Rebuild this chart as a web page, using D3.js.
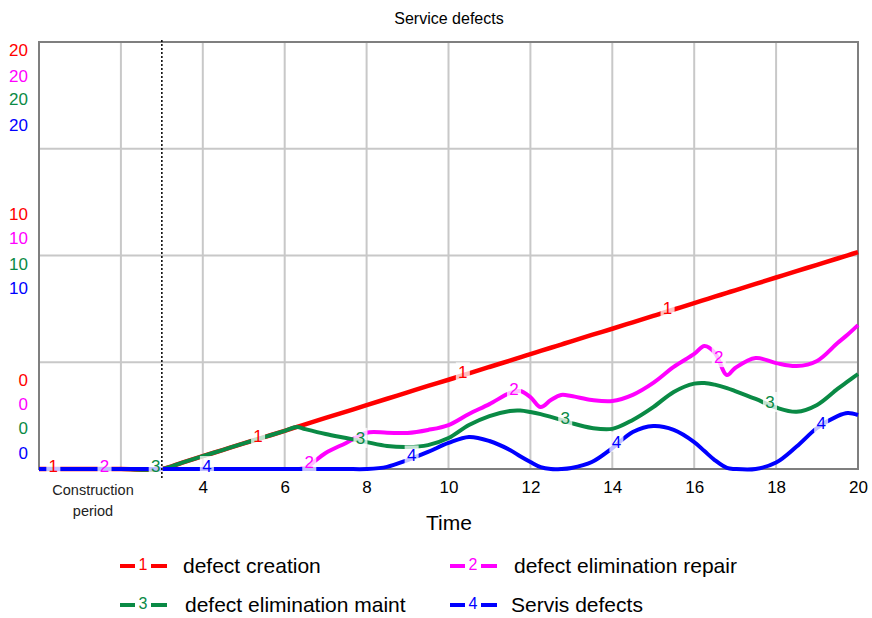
<!DOCTYPE html>
<html>
<head>
<meta charset="utf-8">
<script src="https://cdn.jsdelivr.net/npm/d3@7"></script>
<style>
  body { margin: 0; background: #fff; }
  svg { font-family: "Liberation Sans", Arial, sans-serif; }
</style>
</head>
<body>
<div id="chart"></div>
<script>
// data
var time = [0, 1, 2, 3, 3.5, 4, 4.5, 5, 5.5, 6, 6.3, 6.5, 7, 7.5, 8, 8.5, 9, 9.5, 10, 10.5, 11, 11.5, 11.75, 12, 12.25, 12.5, 12.75, 13, 13.5, 14, 14.5, 15, 15.5, 16, 16.25, 16.5, 16.8, 17, 17.5, 18, 18.5, 19, 19.5, 19.75, 20];
var defectCreation = [0, 0, 0, 0, 0.3, 0.6, 0.9, 1.2, 1.49, 1.79, 1.97, 2.09, 2.39, 2.69, 2.99, 3.29, 3.59, 3.89, 4.18, 4.48, 4.78, 5.08, 5.23, 5.38, 5.53, 5.68, 5.83, 5.98, 6.28, 6.57, 6.87, 7.17, 7.47, 7.77, 7.92, 8.07, 8.25, 8.37, 8.67, 8.97, 9.27, 9.56, 9.86, 10.01, 10.16];
var elimRepair = [0, 0, 0, 0, 0, 0, 0, 0, 0, 0, 0, 0.05, 0.75, 1.22, 1.7, 1.7, 1.69, 1.83, 2.06, 2.58, 3.04, 3.56, 3.65, 3.37, 2.9, 3.23, 3.47, 3.42, 3.23, 3.18, 3.47, 4.03, 4.78, 5.39, 5.76, 5.45, 4.4, 4.73, 5.2, 4.96, 4.82, 5.06, 5.9, 6.3, 6.74];
var elimMaint = [0, 0, 0, 0, 0.3, 0.6, 0.9, 1.2, 1.49, 1.79, 1.97, 1.87, 1.64, 1.45, 1.26, 1.08, 1.03, 1.12, 1.45, 2.06, 2.48, 2.72, 2.74, 2.67, 2.57, 2.44, 2.3, 2.15, 1.92, 1.88, 2.3, 2.9, 3.61, 4.0, 4.03, 3.95, 3.79, 3.65, 3.28, 2.88, 2.68, 3.0, 3.75, 4.1, 4.45];
var servisDefects = [0, 0, 0, 0, 0, 0, 0, 0, 0, 0, 0, 0, 0, 0, 0, 0.1, 0.42, 0.8, 1.22, 1.5, 1.31, 0.89, 0.6, 0.33, 0.09, 0, 0, 0.05, 0.33, 0.98, 1.73, 2.01, 1.83, 1.26, 0.84, 0.42, 0.05, 0, 0, 0.3, 1.05, 1.92, 2.48, 2.62, 2.53];

var seriesNames = ["defect creation", "defect elimination repair", "defect elimination maint", "Servis defects"];
var seriesColors = ["#ff0000", "#ff00ff", "#0a8a45", "#0000ff"];
var seriesValues = [defectCreation, elimRepair, elimMaint, servisDefects];
var labelTimes = [[0.35, 5.35, 10.35, 15.35], [1.6, 6.6, 11.6, 16.6], [2.85, 7.85, 12.85, 17.85], [4.1, 9.1, 14.1, 19.1]];
var xTicks = [4, 6, 8, 10, 12, 14, 16, 18, 20];
var xGrid = [2, 4, 6, 8, 10, 12, 14, 16, 18];
var yGrid = [5, 10, 15];
var yTickValues = [0, 10, 20];
var constructionEnd = 3;

var W = 872, H = 618;
var plotL = 39, plotR = 858, plotT = 42, plotB = 469;

var svg = d3.select("#chart").append("svg")
    .attr("width", W).attr("height", H);

var x = d3.scaleLinear().domain([0, 20]).range([plotL, plotR]);
var y = d3.scaleLinear().domain([0, 20]).range([plotB, plotT]);

// title
svg.append("text").attr("x", 449).attr("y", 24)
    .attr("text-anchor", "middle").style("font-size", "16px")
    .text("Service defects");

// grid
svg.append("g").selectAll("line").data(xGrid).enter().append("line")
    .attr("x1", d => x(d)).attr("x2", d => x(d))
    .attr("y1", plotT).attr("y2", plotB)
    .attr("stroke", "#c8c8c8").attr("stroke-width", 2);
svg.append("g").selectAll("line").data(yGrid).enter().append("line")
    .attr("x1", plotL).attr("x2", plotR)
    .attr("y1", d => y(d)).attr("y2", d => y(d))
    .attr("stroke", "#c8c8c8").attr("stroke-width", 2);

// frame
svg.append("rect").attr("x", plotL).attr("y", plotT)
    .attr("width", plotR - plotL).attr("height", plotB - plotT)
    .attr("fill", "none").attr("stroke", "#7f7f7f").attr("stroke-width", 2);

// x axis labels
var xAxis = svg.append("g")
    .attr("transform", "translate(0," + plotB + ")")
    .call(d3.axisBottom(x).tickValues(xTicks).tickSize(0).tickPadding(12).tickFormat(d3.format("d")));
xAxis.select(".domain").remove();
xAxis.selectAll("text").style("font-size", "17px").attr("fill", "#000");

svg.append("text").attr("x", 449).attr("y", 530)
    .attr("text-anchor", "middle").style("font-size", "21px").text("Time");

svg.append("text").attr("x", 93).attr("y", 495)
    .attr("text-anchor", "middle").style("font-size", "14.5px").attr("fill", "#222")
    .text("Construction");
svg.append("text").attr("x", 93).attr("y", 516)
    .attr("text-anchor", "middle").style("font-size", "14.5px").attr("fill", "#222")
    .text("period");

// stacked y labels, one per series
var yLabelOffsets = {20: [8, 34, 57, 83], 10: [-41, -17, 9, 33], 0: [-89, -65, -41, -16]};
yTickValues.forEach(function(v) {
  seriesColors.forEach(function(c, i) {
    svg.append("text")
      .attr("x", 28).attr("y", y(v) + yLabelOffsets[v][i])
      .attr("dy", "0.35em").attr("text-anchor", "end")
      .style("font-size", "17px").attr("fill", c)
      .text(v);
  });
});

// lines
var line = d3.line()
    .x((d, i) => x(time[i]))
    .y(d => y(d))
    .curve(d3.curveCatmullRom.alpha(0.5));

seriesValues.forEach(function(vals, i) {
  svg.append("path").datum(vals)
    .attr("fill", "none")
    .attr("stroke", seriesColors[i])
    .attr("stroke-width", i == 0 ? 4.5 : 4)
    .attr("d", line);
});

// line number labels
function valueAt(vals, t) {
  var j = d3.bisectRight(time, t) - 1;
  if (j >= time.length - 1) return vals[vals.length - 1];
  var f = (t - time[j]) / (time[j + 1] - time[j]);
  return vals[j] + f * (vals[j + 1] - vals[j]);
}
seriesValues.forEach(function(vals, i) {
  labelTimes[i].forEach(function(t) {
    var px = x(t), py = y(valueAt(vals, t)) - 3;
    svg.append("rect")
      .attr("x", px - 7).attr("y", py - 10)
      .attr("width", 14).attr("height", 20)
      .attr("fill", "#fff").attr("opacity", 0.75);
    svg.append("text")
      .attr("x", px).attr("y", py).attr("dy", "0.35em")
      .attr("text-anchor", "middle").style("font-size", "17px")
      .attr("fill", seriesColors[i]).text(i + 1);
  });
});

// construction period marker
svg.append("line")
    .attr("x1", x(constructionEnd)).attr("x2", x(constructionEnd))
    .attr("y1", 40).attr("y2", 478)
    .attr("stroke", "#000").attr("stroke-width", 1.5)
    .attr("stroke-dasharray", "2,2");

// legend
var legendPos = [[120, 566], [450, 566], [120, 605], [450, 605]];
var legendTextX = [183, 514, 185, 511];
seriesNames.forEach(function(name, i) {
  var lx = legendPos[i][0], ly = legendPos[i][1];
  var g = svg.append("g");
  g.append("line").attr("x1", lx).attr("x2", lx + 15).attr("y1", ly).attr("y2", ly)
    .attr("stroke", seriesColors[i]).attr("stroke-width", 4);
  g.append("line").attr("x1", lx + 31).attr("x2", lx + 47).attr("y1", ly).attr("y2", ly)
    .attr("stroke", seriesColors[i]).attr("stroke-width", 4);
  g.append("text").attr("x", lx + 23).attr("y", ly - 2).attr("dy", "0.35em")
    .attr("text-anchor", "middle").style("font-size", "16px")
    .attr("fill", seriesColors[i]).text(i + 1);
  g.append("text").attr("x", legendTextX[i]).attr("y", ly).attr("dy", "0.35em")
    .style("font-size", "21px").attr("fill", "#000").text(name);
});
</script>
</body>
</html>
